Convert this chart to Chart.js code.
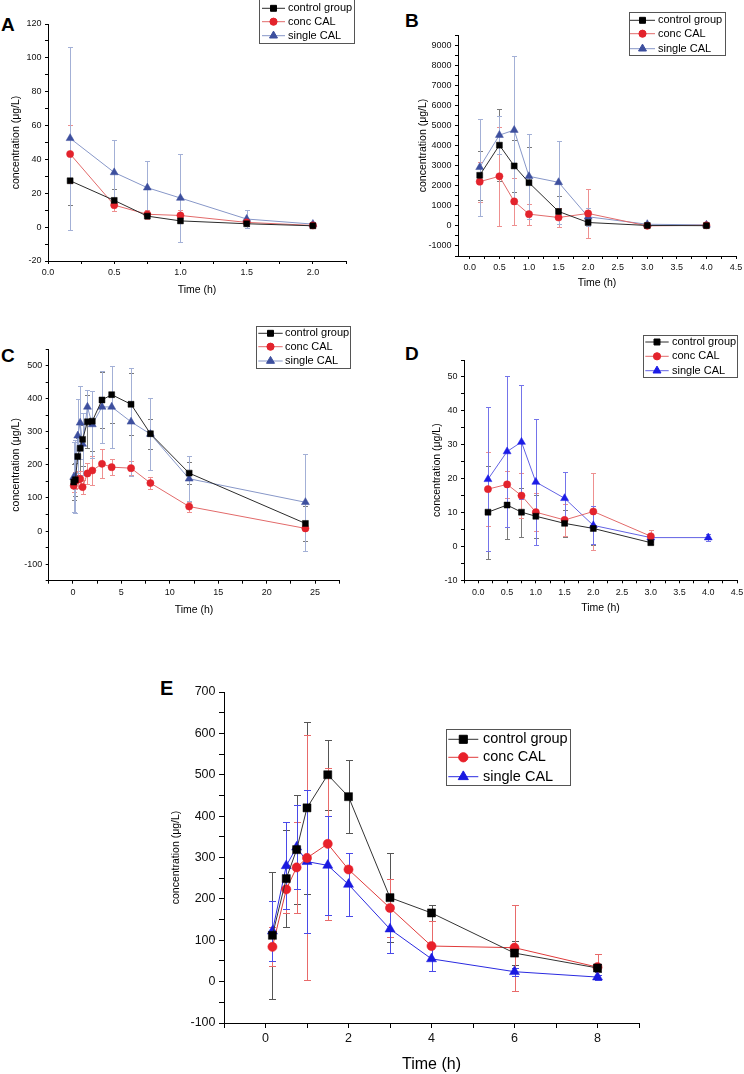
<!DOCTYPE html>
<html>
<head>
<meta charset="utf-8">
<script src="https://cdn.jsdelivr.net/npm/chart.js@4/dist/chart.umd.min.js"></script>
<style>
body { margin:0; background:#fff; width:744px; height:1074px; position:relative; overflow:hidden; font-family:Arial, "Liberation Sans", sans-serif; }
canvas { position:absolute; }
.tag { position:absolute; font-weight:bold; color:#000; line-height:1; }
</style>
</head>
<body>
<div class="tag" style="left:1px;top:15px;font-size:19px">A</div>
<div class="tag" style="left:405px;top:11px;font-size:19px">B</div>
<div class="tag" style="left:1px;top:346px;font-size:19px">C</div>
<div class="tag" style="left:405px;top:344px;font-size:19px">D</div>
<div class="tag" style="left:160px;top:678px;font-size:20px">E</div>
<script>
const seriesNames = ["control group", "conc CAL", "single CAL"]
const xTitle = "Time (h)"
const yTitle = "concentration (μg/L)"

// A
const timeA = [0.167, 0.5, 0.75, 1, 1.5, 2]
const controlA = [27.4, 15.8, 6.5, 3.7, 2.0, 0.8]
const controlA_sd = [14.5, 6.5, 1.5, 1.0, 1.5, 0.5]
const concA = [43.2, 13.0, 7.6, 6.9, 2.8, 1.0]
const concA_sd = [17.0, 3.5, 2.5, 3.0, 1.0, 0.5]
const singleA = [52.5, 32.3, 23.3, 17.2, 4.8, 1.8]
const singleA_sd = [54.0, 19.0, 15.6, 26.0, 5.3, 1.5]

// B
const timeB = [0.167, 0.5, 0.75, 1, 1.5, 2, 3, 4]
const controlB = [2517, 4017, 2983, 2150, 717, 167, 20, 10]
const controlB_sd = [1230, 1780, 1300, 1800, 780, 150, 30, 20]
const concB = [2200, 2467, 1217, 583, 417, 617, 0, 30]
const concB_sd = [1000, 2460, 1180, 520, 450, 1220, 30, 30]
const singleB = [2917, 4517, 4767, 2467, 2167, 450, 80, 50]
const singleB_sd = [2420, 930, 3670, 2130, 2070, 450, 60, 60]

// C
const timeC = [0.083, 0.25, 0.5, 0.75, 1, 1.5, 2, 3, 4, 6, 8, 12, 24]
const controlC = [148, 155, 225, 250, 277, 330, 332, 396, 412, 383, 294, 175, 23]
const controlC_sd = [55, 50, 55, 70, 80, 80, 90, 84, 86, 93, 46, 34, 53]
const concC = [137, 152, 155, 158, 133, 174, 183, 203, 193, 190, 145, 74, 8]
const concC_sd = [20, 25, 25, 22, 22, 33, 45, 44, 24, 22, 17, 15, 5]
const singleC = [163, 165, 288, 327, 263, 375, 322, 375, 375, 330, 293, 158, 87]
const singleC_sd = [105, 110, 112, 110, 95, 50, 100, 110, 125, 163, 110, 68, 146]

// D
const timeD = [0.167, 0.5, 0.75, 1, 1.5, 2, 3, 4]
const controlD = [10.1, 12.2, 10.1, 8.9, 6.8, 5.3, 1.1, null]
const controlD_sd = [13.7, 10.0, 7.2, 6.3, 4.0, 4.8, 0.5, null]
const concD = [16.9, 18.3, 15.0, 10.1, 7.8, 10.3, 3.0, null]
const concD_sd = [10.9, 4.0, 6.6, 5.6, 4.8, 11.3, 1.7, null]
const singleD = [19.8, 28.0, 30.8, 19.0, 14.2, 6.2, 2.6, 2.6]
const singleD_sd = [21.3, 22.2, 16.7, 18.5, 7.8, 5.6, 1.0, 1.0]

// E
const timeE = [0.167, 0.5, 0.75, 1, 1.5, 2, 3, 4, 6, 8]
const controlE = [112, 249, 319, 420, 500, 447, 203, 166, 69, 33]
const controlE_sd = [153, 117, 131, 208, 85, 88, 107, 20, 30, 10]
const concE = [84, 223, 276, 299, 333, 271, 178, 86, 82, 35]
const concE_sd = [47, 58, 109, 296, 183, 40, 69, 60, 104, 31]
const singleE = [122, 280, 325, 290, 281, 235, 127, 55, 24, 11]
const singleE_sd = [73, 105, 102, 173, 120, 77, 57, 30, 10, 6]

Chart.defaults.font.family = 'Arial, "Liberation Sans", sans-serif'

const isMul = (v, m) => Math.abs(v / m - Math.round(v / m)) < 1e-6

// styles
const smallStyle = [
    {line: "#2b2b2b", mark: "#000", err: "#7a7a7a", shape: "rect", r: 4.2},
    {line: "#e26a6a", mark: "#e3232c", err: "#ee9090", shape: "circle", r: 3.6},
    {line: "#8797c8", mark: "#3d4f9e", err: "#a3b0d6", shape: "triangle", r: 4.6}
]
const dStyle = [
    smallStyle[0], smallStyle[1],
    {line: "#6262e4", mark: "#1c1ce6", err: "#7474ea", shape: "triangle", r: 4.6}
]
const bigStyle = [
    {line: "#333", mark: "#000", err: "#555", shape: "rect", r: 5.7},
    {line: "#e03a3a", mark: "#e8202a", err: "#e86a6a", shape: "circle", r: 4.6},
    {line: "#2a2ae0", mark: "#1a1ae0", err: "#4a4ae8", shape: "triangle", r: 5.8}
]

function series(i, times, vals, sd, st) {
    const data = []
    const err = []
    times.forEach((t, j) => {
        if (vals[j] == null) return
        data.push({x: t, y: vals[j]})
        err.push(sd[j])
    })
    return {
        label: seriesNames[i],
        data,
        sd: err,
        errColor: st.err,
        borderColor: st.line,
        borderWidth: 1,
        pointStyle: st.shape,
        pointRadius: st.r,
        pointBackgroundColor: st.mark,
        pointBorderColor: st.mark,
        pointBorderWidth: 0.5,
        tension: 0,
        fill: false
    }
}

const errorBars = {
    id: "errorBars",
    beforeDatasetsDraw(chart, args, o) {
        const {ctx, scales: {x, y}} = chart
        chart.data.datasets.forEach(ds => {
            ctx.save()
            ctx.strokeStyle = ds.errColor
            ctx.lineWidth = 1
            ds.data.forEach((p, j) => {
                const e = ds.sd[j]
                const px = Math.round(x.getPixelForValue(p.x)) + 0.5
                const top = Math.round(y.getPixelForValue(p.y + e)) + 0.5
                const bot = Math.round(y.getPixelForValue(p.y - e)) + 0.5
                ctx.beginPath()
                ctx.moveTo(px, top); ctx.lineTo(px, bot)
                ctx.moveTo(px - o.cap, top); ctx.lineTo(px + o.cap, top)
                ctx.moveTo(px - o.cap, bot); ctx.lineTo(px + o.cap, bot)
                ctx.stroke()
            })
            ctx.restore()
        })
    }
}

const boxLegend = {
    id: "boxLegend",
    afterDraw(chart, args, o) {
        const ctx = chart.ctx
        ctx.save()
        ctx.fillStyle = "#fff"
        ctx.fillRect(o.x, o.y, o.w, o.h)
        ctx.strokeStyle = "#555"
        ctx.lineWidth = 1
        ctx.strokeRect(Math.round(o.x) + 0.5, Math.round(o.y) + 0.5, Math.round(o.w), Math.round(o.h))
        chart.data.datasets.forEach((ds, i) => {
            const cy = o.rows[i]
            ctx.strokeStyle = ds.borderColor
            ctx.lineWidth = 1
            ctx.beginPath()
            ctx.moveTo(o.l0, cy); ctx.lineTo(o.l1, cy)
            ctx.stroke()
            ctx.fillStyle = ds.pointBackgroundColor
            ctx.strokeStyle = ds.pointBorderColor
            Chart.helpers.drawPoint(ctx, {pointStyle: ds.pointStyle, radius: ds.pointRadius, borderWidth: 0.5, rotation: 0}, (o.l0 + o.l1) / 2, cy)
            ctx.fillStyle = "#000"
            ctx.font = o.size + 'px Arial, "Liberation Sans", sans-serif'
            ctx.textBaseline = "middle"
            ctx.textAlign = "left"
            ctx.fillText(ds.label, o.tx, cy)
        })
        ctx.restore()
    }
}

function panel(c) {
    const [bx, by, bw, bh] = c.box
    const [al, at, ar, ab] = c.area
    const cv = document.createElement("canvas")
    cv.width = bw
    cv.height = bh
    cv.style.left = bx + "px"
    cv.style.top = by + "px"
    document.body.appendChild(cv)
    const f = c.font
    const lg = c.legend
    new Chart(cv.getContext("2d"), {
        type: "line",
        data: {datasets: c.datasets},
        options: {
            responsive: false,
            animation: false,
            events: [],
            layout: {padding: {left: 0, top: at - by, right: bx + bw - ar, bottom: 0}},
            scales: {
                x: {
                    type: "linear", min: c.xMin, max: c.xMax,
                    afterFit: s => { s.height = by + bh - ab; s.paddingLeft = 0; s.paddingRight = 0 },
                    ticks: {
                        stepSize: c.xStep, autoSkip: false, maxRotation: 0, minRotation: 0, includeBounds: false,
                        padding: f.pad, color: "#111", font: {size: f.tick},
                        callback: v => isMul(v, c.xMajor) ? v.toFixed(c.xDec) : ""
                    },
                    grid: {display: true, drawOnChartArea: false, tickLength: f.len, color: "#000"},
                    border: {display: true, color: "#000", width: 1},
                    title: {display: true, text: xTitle, color: "#000", font: {size: f.title},
                        padding: {top: 0, bottom: Math.max(0, by + bh - c.xTitleY - f.title * 0.6)}}
                },
                y: {
                    type: "linear", min: c.yMin, max: c.yMax,
                    afterFit: s => { s.width = al - bx; s.paddingTop = 0; s.paddingBottom = 0 },
                    ticks: {
                        stepSize: c.yStep, autoSkip: false, includeBounds: false,
                        padding: f.pad, color: "#111", font: {size: f.tick},
                        callback: v => isMul(v, c.yMajor) ? String(Math.round(v)) : ""
                    },
                    grid: {display: true, drawOnChartArea: false, tickLength: f.len, color: "#000"},
                    border: {display: true, color: "#000", width: 1},
                    title: {display: true, text: yTitle, color: "#000", font: {size: f.ytitle},
                        padding: {top: c.yTitleX - bx - f.ytitle * 0.6, bottom: 0}}
                }
            },
            plugins: {
                legend: {display: false},
                tooltip: {enabled: false},
                errorBars: {cap: c.cap},
                boxLegend: {
                    x: lg.x - bx, y: lg.y - by, w: lg.w, h: lg.h,
                    rows: lg.rows.map(r => r - by), l0: lg.l0 - bx, l1: lg.l1 - bx, tx: lg.tx - bx, size: lg.size
                }
            }
        },
        plugins: [errorBars, boxLegend]
    })
}

const smallFont = {tick: 9, title: 10.5, ytitle: 10.5, pad: 3.5, len: 3}
const bigFont = {tick: 12.5, title: 16, ytitle: 10.5, pad: 3.5, len: 5}

panel({
    box: [0, 0, 372, 300], area: [48, 24, 346, 261],
    xMin: 0, xMax: 2.25, xStep: 0.25, xMajor: 0.5, xDec: 1,
    yMin: -20, yMax: 120, yStep: 10, yMajor: 20,
    xTitleY: 290.5, yTitleX: 16, font: smallFont, cap: 2.5,
    legend: {x: 259, y: -1, w: 95, h: 44, rows: [8.3, 21.7, 35.7], l0: 262, l1: 285, tx: 288, size: 11},
    datasets: [
        series(0, timeA, controlA, controlA_sd, smallStyle[0]),
        series(1, timeA, concA, concA_sd, smallStyle[1]),
        series(2, timeA, singleA, singleA_sd, smallStyle[2])
    ]
})

panel({
    box: [372, 0, 372, 300], area: [458, 35, 736, 256],
    xMin: -0.2, xMax: 4.5, xStep: 0.25, xMajor: 0.5, xDec: 1,
    yMin: -1500, yMax: 9500, yStep: 500, yMajor: 1000,
    xTitleY: 283, yTitleX: 423.5, font: smallFont, cap: 2.5,
    legend: {x: 628.7, y: 11.7, w: 95.6, h: 42.6, rows: [20.3, 33.7, 48.7], l0: 630, l1: 655, tx: 658, size: 11},
    datasets: [
        series(0, timeB, controlB, controlB_sd, smallStyle[0]),
        series(1, timeB, concB, concB_sd, smallStyle[1]),
        series(2, timeB, singleB, singleB_sd, smallStyle[2])
    ]
})

panel({
    box: [0, 300, 372, 320], area: [48.7, 349, 339.3, 580.7],
    xMin: -2.5, xMax: 27.5, xStep: 2.5, xMajor: 5, xDec: 0,
    yMin: -150, yMax: 550, yStep: 50, yMajor: 100,
    xTitleY: 610, yTitleX: 16, font: smallFont, cap: 2.5,
    legend: {x: 256.3, y: 326, w: 94, h: 41.7, rows: [333.3, 346.7, 361], l0: 258.3, l1: 282.7, tx: 285, size: 11},
    datasets: [
        series(0, timeC, controlC, controlC_sd, smallStyle[0]),
        series(1, timeC, concC, concC_sd, smallStyle[1]),
        series(2, timeC, singleC, singleC_sd, smallStyle[2])
    ]
})

panel({
    box: [372, 300, 372, 320], area: [464, 360, 737, 580.3],
    xMin: -0.25, xMax: 4.5, xStep: 0.25, xMajor: 0.5, xDec: 1,
    yMin: -10, yMax: 55, yStep: 5, yMajor: 10,
    xTitleY: 608.3, yTitleX: 437, font: smallFont, cap: 2.5,
    legend: {x: 643.3, y: 335, w: 94.4, h: 42.3, rows: [342, 356.3, 370.7], l0: 645.3, l1: 668.7, tx: 672, size: 11},
    datasets: [
        series(0, timeD, controlD, controlD_sd, dStyle[0]),
        series(1, timeD, concD, concD_sd, dStyle[1]),
        series(2, timeD, singleD, singleD_sd, dStyle[2])
    ]
})

panel({
    box: [150, 640, 594, 434], area: [224, 692, 639, 1023],
    xMin: -1, xMax: 9, xStep: 1, xMajor: 2, xDec: 0,
    yMin: -100, yMax: 700, yStep: 50, yMajor: 100,
    xTitleY: 1065, yTitleX: 175.8, font: bigFont, cap: 3.5,
    legend: {x: 445.7, y: 729.3, w: 123.6, h: 56, rows: [739.3, 757.3, 776.7], l0: 448.3, l1: 478.3, tx: 483, size: 14.5},
    datasets: [
        series(0, timeE, controlE, controlE_sd, bigStyle[0]),
        series(1, timeE, concE, concE_sd, bigStyle[1]),
        series(2, timeE, singleE, singleE_sd, bigStyle[2])
    ]
})
</script>
</body>
</html>
